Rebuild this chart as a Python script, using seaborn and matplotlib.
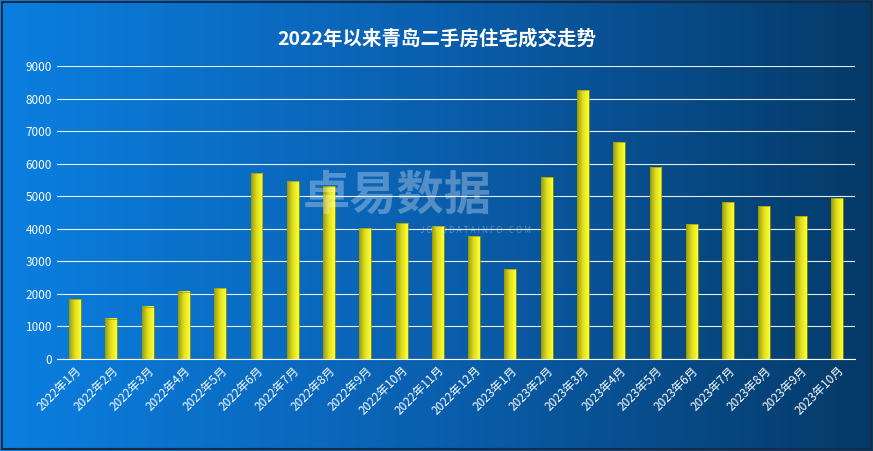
import numpy as np
import pandas as pd
import matplotlib.pyplot as plt
import seaborn as sns
from matplotlib.colors import LinearSegmentedColormap

plt.rcParams['font.family'] = ['Noto Sans CJK SC', 'DejaVu Sans']

months = ['2022年1月', '2022年2月', '2022年3月', '2022年4月', '2022年5月', '2022年6月',
          '2022年7月', '2022年8月', '2022年9月', '2022年10月', '2022年11月', '2022年12月',
          '2023年1月', '2023年2月', '2023年3月', '2023年4月', '2023年5月', '2023年6月',
          '2023年7月', '2023年8月', '2023年9月', '2023年10月']
deals = [1840, 1230, 1600, 2060, 2180, 5700, 5460, 5300, 4020, 4170, 4080, 3770,
         2760, 5580, 8250, 6660, 5890, 4140, 4820, 4690, 4390, 4940]
df = pd.DataFrame({'月份': months, '成交': deals})

fig = plt.figure(figsize=(8.73, 4.51), dpi=100)
# 背景渐变
bg = fig.add_axes([0, 0, 1, 1])
grad = np.linspace(0, 1, 256).reshape(1, -1)
cmap_bg = LinearSegmentedColormap.from_list('bg', ['#0b7fe0', '#0a5fae', '#053a68'])
bg.imshow(grad, aspect='auto', cmap=cmap_bg, extent=[0, 1, 0, 1])
bg.set_xlim(0, 1)
bg.set_ylim(0, 1)
bg.axis('off')
bg.add_patch(plt.Rectangle((0.002, 0.004), 0.996, 0.992, fill=False, edgecolor='#1a2a40', linewidth=1.5))

ax = fig.add_axes([57 / 873, 1 - 359 / 451, 798 / 873, 293 / 451])
ax.set_facecolor('none')
sns.barplot(data=df, x='月份', y='成交', color='#e8e800', width=0.33, ax=ax,
            edgecolor='#9a9a00', linewidth=0.5)
# 柱子渐变
cmap_bar = LinearSegmentedColormap.from_list('bar', ['#9a9a10', '#e0e020', '#ffff30'])
for p in ax.patches:
    x0, y0 = p.get_x(), p.get_y()
    w, h = p.get_width(), p.get_height()
    ax.imshow(grad, aspect='auto', cmap=cmap_bar, extent=[x0, x0 + w, y0, y0 + h], zorder=3)
    p.set_facecolor('none')
    p.set_zorder(4)
ax.set_xlim(-0.5, len(months) - 0.5)
ax.set_ylim(0, 9000)
ax.set_yticks(range(0, 9001, 1000))
ax.grid(axis='y', color='white', linewidth=0.8, alpha=0.9)
ax.set_axisbelow(True)
for s in ['top', 'right', 'left']:
    ax.spines[s].set_visible(False)
ax.spines['bottom'].set_color('white')
ax.tick_params(colors='white', labelsize=8.5, length=0)
plt.setp(ax.get_xticklabels(), rotation=45, ha='right', rotation_mode='anchor')
ax.set_xlabel('')
ax.set_ylabel('')

fig.text(0.5, 0.915, '2022年以来青岛二手房住宅成交走势', color='white', fontsize=14,
         fontweight='bold', ha='center', va='center')
fig.text(0.455, 0.565, '卓易数据', color='white', alpha=0.3, fontsize=34,
         fontweight='bold', ha='center', va='center')
fig.text(0.545, 0.49, 'J O Y O D A T A I N F O . C O M', color='white', alpha=0.3,
         fontsize=6, ha='center', va='center')

fig.savefig('out.png', dpi=100)
